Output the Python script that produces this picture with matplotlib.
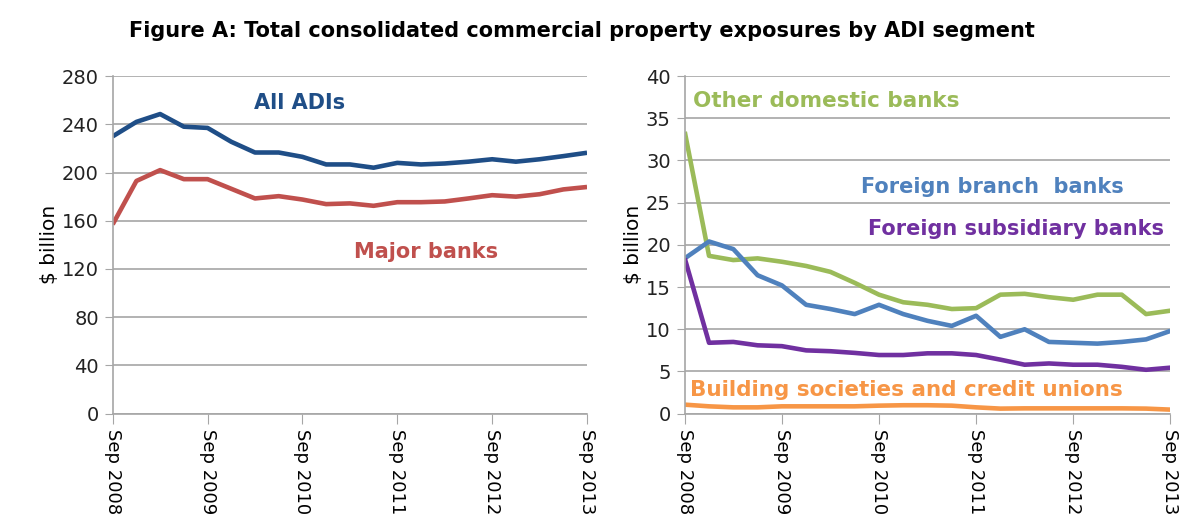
import matplotlib.pyplot as plt
import numpy as np

plt.rcParams['font.family'] = ['DejaVu Sans']

# quarterly, Sep 2008 .. Sep 2013
quarters = np.arange(21)
year_labels = ['Sep 2008', 'Sep 2009', 'Sep 2010', 'Sep 2011', 'Sep 2012', 'Sep 2013']

all_adis = [230, 242, 248.5, 238, 237, 225.5, 216.6, 216.6, 213, 206.7, 206.7,
            204, 208, 206.7, 207.5, 209, 211, 209, 211, 213.6, 216.4]
major_banks = [157, 193, 202, 194.5, 194.5, 186.5, 178.5, 180.4, 177.6, 173.8, 174.4,
               172.4, 175.4, 175.4, 176, 178.5, 181.2, 180, 182, 186, 188]

other_domestic = [33.4, 18.7, 18.2, 18.4, 18.0, 17.5, 16.8, 15.5, 14.1, 13.2, 12.9,
                  12.4, 12.5, 14.1, 14.2, 13.8, 13.5, 14.1, 14.1, 11.8, 12.2]
foreign_branch = [18.4, 20.4, 19.5, 16.4, 15.2, 12.9, 12.4, 11.8, 12.9, 11.8, 11.0,
                  10.4, 11.6, 9.1, 10.0, 8.5, 8.4, 8.3, 8.5, 8.8, 9.8]
foreign_subsidiary = [18.4, 8.4, 8.5, 8.1, 8.0, 7.5, 7.4, 7.2, 6.95, 6.95, 7.15,
                      7.15, 6.95, 6.4, 5.8, 5.95, 5.8, 5.8, 5.55, 5.2, 5.45]
building_soc = [1.07, 0.87, 0.75, 0.75, 0.87, 0.87, 0.87, 0.87, 0.95, 1.0, 1.0,
                0.95, 0.75, 0.6, 0.63, 0.63, 0.63, 0.63, 0.63, 0.6, 0.48]

grid_col = '#a6a6a6'

fig = plt.figure(figsize=(11.8, 5.21), dpi=100)
ax1 = fig.add_axes([0.0955, 0.206, 0.402, 0.648])
ax2 = fig.add_axes([0.5803, 0.206, 0.4115, 0.648])


def style(ax, ymax, step):
    ax.set_xlim(0, 20)
    ax.set_ylim(0, ymax)
    ax.set_yticks(np.arange(0, ymax + 1, step))
    ax.set_xticks(quarters[::4])
    ax.set_xticklabels(year_labels, rotation=270, fontsize=13)
    ax.tick_params(axis='y', labelsize=14, length=6, color=grid_col, pad=4)
    ax.tick_params(axis='x', length=7, color=grid_col, pad=4)
    ax.grid(axis='y', color=grid_col, linewidth=1.2)
    ax.set_axisbelow(True)
    for s in ['top', 'right']:
        ax.spines[s].set_visible(False)
    for s in ['left', 'bottom']:
        ax.spines[s].set_color(grid_col)
        ax.spines[s].set_linewidth(1.2)
    ax.set_ylabel('$ billion', fontsize=14.5, labelpad=2)
    for lab in ax.get_yticklabels():
        lab.set_color('#222222')


lw = 3.3
ax1.plot(quarters, all_adis, color='#1f4e87', lw=lw, solid_capstyle='butt')
ax1.plot(quarters, major_banks, color='#c0504d', lw=lw, solid_capstyle='butt')
style(ax1, 280, 40)
ax1.text(7.9, 253, 'All ADIs', color='#1f4e87', fontsize=15, fontweight='bold', ha='center')
ax1.text(13.2, 129, 'Major banks', color='#c0504d', fontsize=15, fontweight='bold', ha='center')

ax2.plot(quarters, other_domestic, color='#9bbb59', lw=lw, solid_capstyle='butt')
ax2.plot(quarters, foreign_branch, color='#4f81bd', lw=lw, solid_capstyle='butt')
ax2.plot(quarters, foreign_subsidiary, color='#7030a0', lw=lw, solid_capstyle='butt')
ax2.plot(quarters, building_soc, color='#f79646', lw=lw, solid_capstyle='butt')
style(ax2, 40, 5)
ax2.text(0.35, 36.3, 'Other domestic banks', color='#9bbb59', fontsize=15.5, fontweight='bold')
ax2.text(12.65, 26.2, 'Foreign branch  banks', color='#4f81bd', fontsize=15, fontweight='bold', ha='center')
ax2.text(19.75, 21.2, 'Foreign subsidiary banks', color='#7030a0', fontsize=15, fontweight='bold', ha='right')
ax2.text(0.2, 2.1, 'Building societies and credit unions', color='#f79646', fontsize=15.5, fontweight='bold')

fig.text(0.493, 0.94, 'Figure A: Total consolidated commercial property exposures by ADI segment',
         ha='center', va='center', fontsize=15, fontweight='bold')

fig.savefig('out.png', dpi=100)
